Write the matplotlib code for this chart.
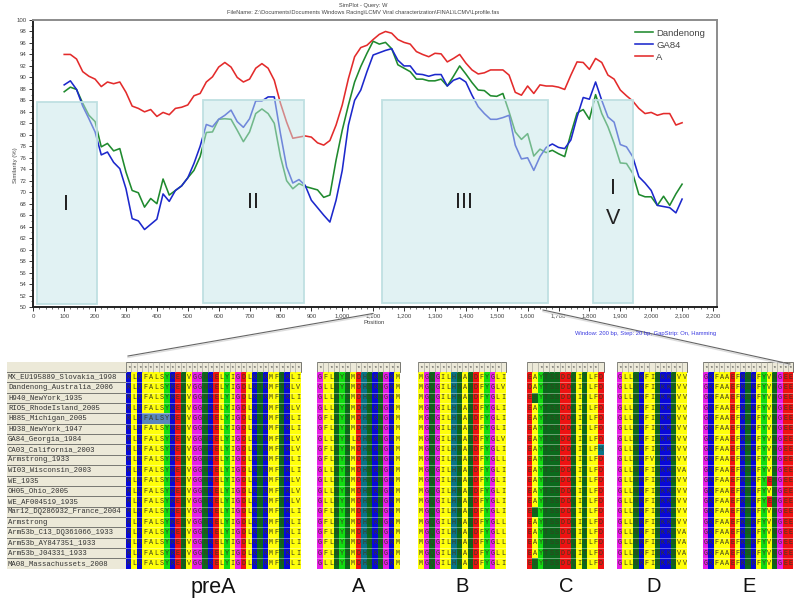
import numpy as np
import matplotlib
matplotlib.use("Agg")
import matplotlib.pyplot as plt
from matplotlib.patches import Rectangle
from matplotlib.ticker import FuncFormatter, MultipleLocator

positions = list(range(100, 2101, 20))
dandenong = [87.5,88.3,87.9,85.5,83.4,82.3,77.9,78.5,77.2,77.6,73.5,70.3,69.9,67.4,68.9,68.0,72.3,69.5,70.3,71.1,
             72.5,73.8,76.2,80.4,80.5,82.7,82.8,82.7,80.8,78.8,80.5,83.7,84.5,83.7,82.0,76.2,72.0,70.6,71.5,71.0,
             70.7,70.4,69.1,69.5,75.6,80.8,85.2,89.2,91.9,94.2,96.3,95.8,96.1,95.0,92.2,91.6,91.0,89.7,89.7,89.4,
             89.4,89.7,88.5,90.2,92.0,90.6,89.1,87.8,87.7,86.8,86.7,87.2,84.0,80.5,79.2,80.2,76.3,77.5,76.9,77.3,
             76.7,76.2,80.2,83.8,84.4,82.7,87.0,83.7,81.4,78.5,75.1,75.0,73.3,69.6,69.2,69.2,67.7,69.3,67.7,69.7,71.4]
ga84 = [88.7,89.4,87.9,85.0,82.8,80.5,76.5,77.0,75.2,74.1,70.6,65.4,65.0,63.5,64.4,65.3,69.7,68.4,70.3,71.1,
        72.5,75.0,78.0,81.8,81.4,82.7,83.4,84.3,82.3,81.3,82.8,85.9,85.9,86.6,86.6,80.2,74.4,71.6,72.2,71.2,
        68.6,67.3,66.0,64.8,68.6,73.8,81.7,86.0,87.8,91.0,93.9,94.3,94.7,95.0,93.0,92.0,92.0,90.6,90.5,90.2,
        90.5,90.5,88.5,89.5,89.9,89.2,86.9,84.9,83.7,82.7,82.7,83.0,83.4,78.2,75.8,76.0,73.8,76.2,77.8,78.4,
        77.8,77.6,79.1,83.1,86.5,86.2,89.2,86.0,83.1,82.2,78.3,77.9,76.2,72.7,71.6,70.3,67.7,67.5,67.3,66.4,68.8]
strain_a = [94.0,94.0,93.2,91.0,90.2,89.7,88.4,89.2,88.9,89.2,87.4,85.0,84.6,84.0,84.4,83.2,83.9,83.5,84.6,84.8,
            85.2,86.8,87.2,89.2,90.1,91.8,92.6,91.8,90.0,89.2,89.7,91.6,92.4,91.6,89.5,85.5,82.2,79.4,79.6,79.8,
            79.6,78.6,78.2,79.0,81.7,85.2,89.8,93.6,95.2,95.6,96.6,97.5,98.0,97.7,96.6,96.1,95.8,94.5,94.0,93.6,
            94.2,94.1,92.7,93.3,94.0,92.5,91.3,90.6,90.8,91.3,91.3,91.3,90.4,87.4,86.9,88.5,87.2,88.7,88.5,88.5,
            88.3,87.9,90.4,92.7,92.6,91.4,93.3,92.6,90.4,89.7,87.8,86.8,85.9,84.6,83.7,83.9,83.4,83.7,83.7,81.7,82.1]

region_start = [11, 550, 1130, 1812]
region_end = [205, 875, 1665, 1942]
region_top = [85.8, 86.0, 86.0, 86.0]
region_bottom = [50.5, 50.7, 50.7, 50.7]

strain_names = ["MX_EU195889_Slovakia_1998", "Dandenong_Australia_2006", "H940_NewYork_1935", "RIO5_RhodeIsland_2005",
                "H885_Michigan_2005", "H938_NewYork_1947", "GA84_Georgia_1984", "CA03_California_2003",
                "Armstrong_1933", "WI03_Wisconsin_2003", "WE_1935", "OH05_Ohio_2005", "WE_AF004519_1935",
                "Mar12_DQ286932_France_2004", "Armstrong", "Arm53b_C13_DQ361066_1933", "Arm53b_AY847351_1933",
                "Arm53b_J04331_1933", "MA08_Massachussets_2008"]

# lower-case letters are shown upper-case but painted as a non-polar residue
prea_rows = ["KLKFALsYKEQVGGNKELYIGDLKTKMFTKLI", "KLKFALsYKEQVGGNKELYIGDLKTKMFTKLV", "KLKFALsYKEQVGGNKELYIGDLKTKMFTKLI",
             "KLKFALsYKEQVGGNKELYIGDLKTKMFTKLV", "KLKFALsYKEQVGGNKELYIGDLKTKMFTKLI", "KLKFALsYKEQVGGNKELYIGDLKTKMFTKLI",
             "KLKFALsYKEQVGGNKELYIGDLKTKMFTKLV", "KLKFALsYKEQVGGNKELYIGDLKTKMFTKLV", "KLKFALsYKEQVGGNKELYIGDLKTKMFTKLI",
             "KLKFALsYKEQVGGNKELYIGDLKTKMFTKLI", "KLKFALsYKEQVGGNKELYIGDLKTKMFTKLV", "KLKFALsYKEQVGGNKELYIGDLKTKMFTKLV",
             "KLKFALsYKEQVGGNKELYIGDLKTKMFTKLV", "KLKFALsYKEQVGGNKELYIGDLKTKMFTKLI", "KLKFALsYKEQVGGNKELYIGDLKTKMFTKLI",
             "KLKFALsYKEQVGGNKELYIGDLKTKMFTKLI", "KLKFALsYKEQVGGNKELYIGDLKTKMFTKLI", "KLKFALsYKEQVGGNKELYIGDLKTKMFTKLI",
             "KLKFALsYKEQVGGNKELYIGDLKTKMFTKLI"]
a_rows = ["GFLNYSMDHSKNGKM", "GLLNYSMDHSKNGKM", "GLLNYSMDHSKNGKM", "GLLNYSMDHSKNGKM", "GFLNYSMDHSKNGKM",
          "GFLNYSMDHSKNGKM", "GLLNYSLDHSKNGKM", "GFLNYSMDHSKNGKM", "GFLNYSMDHSKNGKM", "GLLNYSMDHSKNGKM",
          "GLLNYSMDHSKNGKM", "GLLNYSMDHSKNGKM", "GLLNYSMDHSKNGKM", "GFLNYSMDHSKNGKM", "GFLNYSMDHSKNGKM",
          "GFLNYSMDHSKNGKM", "GFLNYSMDHSKNGKM", "GFLNYSMDHSKNGKM", "GLLNYSMDHSKNGKM"]
b_rows = ["MGQGILHNASDFYGLI", "MGQGILHNASDFYGLV", "MGQGILHNASDFYGLI", "MGQGILHNASDFYGLI", "MGQGILHNASDFYGLI",
          "MGQGILHNASDFYGLI", "MGQGILHNASDFYGLV", "MGQGILHNASDFYGLI", "MGQGILHNASDFYGLL", "MGQGILHNASDFYGLI",
          "MGQGILHNASDFYGLI", "MGQGILHNASDFYGLI", "MGQGILHNASDFYGLI", "MGQGILHNASDFYGLI", "MGQGILHNASDFYGLL",
          "MGQGILHNASDFYGLL", "MGQGILHNASDFYGLL", "MGQGILHNASDFYGLL", "MGQGILHNASDFYGLI"]
c_rows = ["EAYTSSDDQITLFD", "DAYTSSDDQITLFD", "ESYTSSDDQITLFD", "EAYTSSDDQITLFD", "EAYTSSDDQITLFD",
          "EAYTSSDDQITLFD", "EAYTSSDDQITLFD", "EAYTSSDDQITLFH", "EAYTSSDDQITLFD", "EAYTSSDDQITLFD",
          "EAYTSSDDQITLFD", "EAYTSSDDQITLFD", "EAYTSSDDQITLFD", "ESYTSSDDQITLFD", "EAYTSSDDQITLFD",
          "EAYTSSDDQITLFD", "EAYTSSDDQITLFD", "EAYTSSDDQITLFD", "ESYTSSDDQITLFD"]
d_rows = ["GLLNKFISKKSVV", "GLLNKFISKKSVV", "GLLNKFISKKSVV", "GLLNKFISKKSVV", "GLLNKFISKKSVV",
          "GLLNKFISKKSVV", "GLLNKFISKKSVV", "GLLNKFISKKSVV", "GLLNKFVSKKSVV", "GLLNKFISKKSVA",
          "GLLNKFISKKSVV", "GLLNKFISKKSVV", "GLLNKFISKKSVV", "GLLNKFISKKSVV", "GLLNKFISKKSVV",
          "GLLNKFISKKSVA", "GLLNKFISKKSVA", "GLLNKFISKKSVA", "GLLNKFISKKSVV"]
e_rows = ["GKFAAEFKSKFYVNGEE", "GKFAAEFKSKFYVNGEE", "GKFAAEFKSKFYVNGEE", "GKFAAEFKSKFYVNGEE", "GKFAAEFKSKFYVNGEE",
          "GKFAAEFKSKFYVNGEE", "GKFAAEFKSKFYVNGEE", "GKFAAEFKSKFYVNGEE", "GKFAAEFKSKFYVNGEE", "GKFAAEFKSKFYVNGEE",
          "GKFAAEFKSKFYENGEE", "GKFAAEFKSKFYVNGEE", "GKFAAEFKSKFYENGEE", "GKFAAEFKSKFYVNGEE", "GKFAAEFKSKFYVNGEE",
          "GKFAAEFKSKFYVNGEE", "GKFAAEFKSKFYVNGEE", "GKFAAEFKSKFYVNGEE", "GKFAAEFKSKFYVNGEE"]

panel_names = ["preA", "A", "B", "C", "D", "E"]
panel_rows = [prea_rows, a_rows, b_rows, c_rows, d_rows, e_rows]
panel_headers = ["*" * 32, "* **** ********", "*" * 15 + " ", "  " + "*" * 11 + " ",
                 "****** ***** ", "*" * 12 + " " + "*" * 4]
panel_left = [126.0, 317.0, 418.0, 527.0, 617.0, 703.0]
panel_cell = [5.46, 5.53, 5.5, 5.47, 5.4, 5.3]
panel_label_x = [213, 359, 462, 566, 654, 749]

colors = {"G": "#e61ee6", "P": "#e61ee6", "K": "#0808d8", "D": "#ee1212", "E": "#ee1212",
          "N": "#0b6a1c", "Q": "#0b6a1c", "S": "#0b6a1c", "T": "#0b6a1c", "H": "#0a7488",
          "Y": "#12dc12"}
yellow = "#ffff0a"

plt.rcParams["font.family"] = ["Liberation Sans", "DejaVu Sans"]
fig = plt.figure(figsize=(8.0, 5.99), dpi=100)
W, H = 800.0, 599.0

ax = fig.add_axes([33.3 / W, 1 - 307 / H, (717 - 33.3) / W, (307 - 20) / H])
ax.plot(positions, dandenong, color="#1f8a2e", lw=1.15, label="Dandenong", zorder=2)
ax.plot(positions, ga84, color="#1c28cc", lw=1.15, label="GA84", zorder=2.1)
ax.plot(positions, strain_a, color="#e32b2b", lw=1.15, label="A", zorder=2.2)
for s, e, t, b in zip(region_start, region_end, region_top, region_bottom):
    ax.add_patch(Rectangle((s, b), e - s, t - b, facecolor=(0.77, 0.90, 0.91, 0.5),
                           edgecolor="#bfe0e2", lw=1.3, zorder=3))
ax.set_xlim(0, 2213)
ax.set_ylim(50, 100)
ax.xaxis.set_major_locator(MultipleLocator(100))
ax.xaxis.set_minor_locator(MultipleLocator(20))
ax.yaxis.set_major_locator(MultipleLocator(2))
ax.yaxis.set_minor_locator(MultipleLocator(1))
ax.xaxis.set_major_formatter(FuncFormatter(lambda v, p: f"{int(v):,}"))
ax.tick_params(axis="both", which="major", labelsize=4.4, length=3, width=0.7, pad=1.8,
               colors="#333333", labelcolor="#444444")
ax.tick_params(axis="both", which="minor", length=1.5, width=0.5, colors="#333333")
ax.spines["left"].set(linewidth=1.4, color="#222222")
ax.spines["bottom"].set(linewidth=1.4, color="#222222")
ax.spines["top"].set(linewidth=1.4, color="#8c8c8c")
ax.spines["right"].set(linewidth=1.4, color="#8c8c8c")
ax.legend(loc="upper right", bbox_to_anchor=(0.995, 1.0), frameon=False, fontsize=6.8,
          labelspacing=0.33, handlelength=1.9, handletextpad=0.35, labelcolor="#444444")

ov = fig.add_axes([0, 0, 1, 1], zorder=5)
ov.set_xlim(0, W)
ov.set_ylim(H, 0)
ov.axis("off")
ov.patch.set_alpha(0)

ov.text(363, 5, "SimPlot - Query: W", fontsize=4.1, color="#444444", ha="center", va="center")
ov.text(363, 12.5, r"FileName: Z:\Documents\Documents Windows Racing\LCMV Viral characterization\FINAL\LCMV\Lprofile.fas",
        fontsize=4.1, color="#444444", ha="center", va="center")
ov.text(15, 165, "Similarity (%)", fontsize=4.3, color="#444444", rotation=90, ha="center", va="center")
ov.text(374, 323, "Position", fontsize=4.3, color="#444444", ha="center", va="center")
ov.text(575, 333, "Window: 200 bp, Step: 20 bp, GapStrip: On, Hamming", fontsize=4.2, color="#3a3ae0",
        ha="left", va="center")

for txt, x, y in [("I", 66, 204), ("II", 253, 202), ("III", 464, 203), ("I", 613, 188), ("V", 613, 218)]:
    ov.text(x, y, txt, fontsize=15.5, color="#222222", ha="center", va="center")

for xs, ys in [((128, 373), (356.0, 313.5)), ((543, 790), (310, 364))]:
    ov.plot(xs, (ys[0] + 1.5, ys[1] + 1.5), color="#dddddd", lw=1.0)
    ov.plot(xs, ys, color="#666666", lw=0.8)

# strain name column
top = 372.0
row_h = 10.35
ov.add_patch(Rectangle((7, 362), 119, top - 362 + 19 * row_h, facecolor="#ece9d8", edgecolor="none"))
for i, name in enumerate(strain_names):
    y = top + i * row_h
    ov.plot([7, 126], [y, y], color="#777771", lw=0.7)
    ov.text(8, y + row_h / 2, name, fontsize=5.2, family="Liberation Mono", color="#333333",
            ha="left", va="center")

# alignment panels
for name, rows, head, left, cw, lx in zip(panel_names, panel_rows, panel_headers, panel_left, panel_cell, panel_label_x):
    n = len(rows[0])
    ov.add_patch(Rectangle((left, 362), n * cw, top - 362, facecolor="#ece9d8", edgecolor="#777771", lw=0.7))
    for c, ch in enumerate(head):
        ov.plot([left + c * cw] * 2, [362, top], color="#999990", lw=0.4)
        if ch != " ":
            ov.text(left + (c + 0.5) * cw, 367.5, ch, fontsize=4.5, family="Liberation Mono", color="#333333",
                    ha="center", va="center")
    for r, seq in enumerate(rows):
        y = top + r * row_h
        for c, ch in enumerate(seq):
            fc = colors.get(ch, yellow)
            if name == "preA" and r == 4 and 3 <= c <= 7:
                fc = "#5a86bb"
            ov.add_patch(Rectangle((left + c * cw, y), cw + 0.05, row_h + 0.05, facecolor=fc, edgecolor="none"))
            ov.text(left + (c + 0.5) * cw, y + row_h / 2, ch.upper(), fontsize=4.9, family="Liberation Mono",
                    color="#3a3a20", ha="center", va="center")
    for r in range(1, len(rows)):
        ov.plot([left, left + n * cw], [top + r * row_h] * 2, color="white", lw=0.5, alpha=0.55)
    ov.text(lx, 587, name, fontsize=15.5 if name == "preA" else 14.5, color="#111111", ha="center", va="center")

fig.savefig("out.png", dpi=100)
